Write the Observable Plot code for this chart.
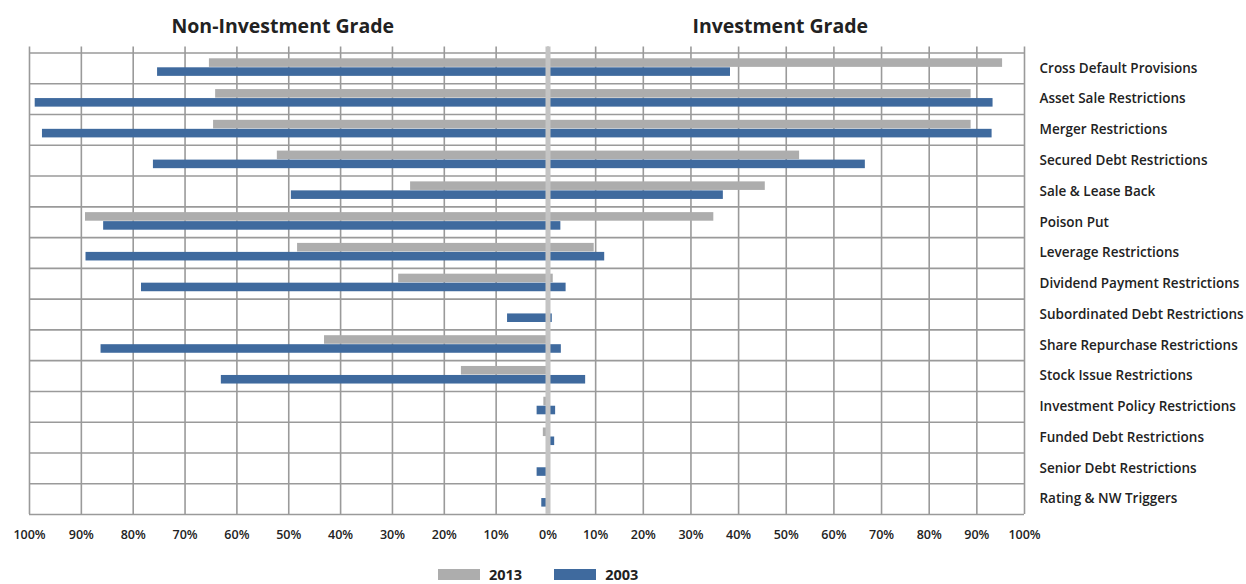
<!DOCTYPE html>
<html>
<head>
<meta charset="utf-8">
<script src="https://cdn.jsdelivr.net/npm/d3@7"></script>
<script src="https://cdn.jsdelivr.net/npm/@observablehq/plot@0.6"></script>
<style>
  html, body { margin: 0; padding: 0; background: #fff; }
  body { width: 1246px; height: 584px; position: relative; overflow: hidden; font-family: "Open Sans", Lato, sans-serif; color: #222; }
  #chart { position: absolute; left: 0; top: 0; }
  .legend { position: absolute; top: 566px; left: 438px; display: flex; align-items: center; font-weight: 700; font-size: 14.5px; line-height: 17px; color: #222; }
  .sw { display: inline-block; width: 42px; height: 11px; margin-right: 9px; }
  .item { display: flex; align-items: center; margin-right: 32px; }
</style>
</head>
<body>
<div id="chart"></div>
<div class="legend">
  <span class="item"><span class="sw" style="background:#adadad"></span>2013</span>
  <span class="item"><span class="sw" style="background:#3f6a9e"></span>2003</span>
</div>
<script>
const categories = [
  "Cross Default Provisions",
  "Asset Sale Restrictions",
  "Merger Restrictions",
  "Secured Debt Restrictions",
  "Sale & Lease Back",
  "Poison Put",
  "Leverage Restrictions",
  "Dividend Payment Restrictions",
  "Subordinated Debt Restrictions",
  "Share Repurchase Restrictions",
  "Stock Issue Restrictions",
  "Investment Policy Restrictions",
  "Funded Debt Restrictions",
  "Senior Debt Restrictions",
  "Rating & NW Triggers"
];
// Non-Investment Grade (left side), percent
const nonInv2013 = [65.3, 64.1, 64.5, 52.2, 26.5, 89.2, 48.3, 28.8, 0, 43.1, 16.7, 0.8, 0.9, 0, 0];
const nonInv2003 = [75.3, 98.9, 97.5, 76.1, 49.5, 85.7, 89.1, 78.4, 7.8, 86.2, 63.0, 2.1, 0, 2.1, 1.2];
// Investment Grade (right side), percent
const inv2013 = [95.4, 88.8, 88.8, 52.8, 45.6, 34.8, 9.7, 1.1, 0, 0, 0, 0, 0, 0, 0];
const inv2003 = [38.3, 93.4, 93.2, 66.6, 36.8, 2.7, 11.9, 3.8, 0.9, 2.8, 7.9, 1.6, 1.4, 0, 0];
const xTicks = [-100, -90, -80, -70, -60, -50, -40, -30, -20, -10, 0, 10, 20, 30, 40, 50, 60, 70, 80, 90, 100];
const sideTitles = ["Non-Investment Grade", "Investment Grade"];
const sideTitleX = [-50, 50];

const rows2013 = categories.flatMap((c, i) => [
  {cat: c, x: -nonInv2013[i]},
  {cat: c, x: inv2013[i]}
]);
const rows2003 = categories.flatMap((c, i) => [
  {cat: c, x: -nonInv2003[i]},
  {cat: c, x: inv2003[i]}
]);

const W = 1246, H = 550;
const plotTop = 52.5, plotBottom = 514;
const bw = (plotBottom - plotTop) / categories.length;
const gridColor = "#9a9a9a";

const chart = Plot.plot({
  width: W,
  height: H,
  marginLeft: 29,
  marginRight: 222,
  marginTop: 46.5,
  marginBottom: H - plotBottom,
  style: {fontFamily: "'Open Sans', Lato, sans-serif", color: "#222", background: "#fff"},
  x: {type: "linear", domain: [-100, 0, 100], range: [29, 547.5, 1024]},
  y: {type: "band", domain: categories, range: [plotTop, plotBottom], padding: 0, round: false},
  marks: [
    Plot.gridX(xTicks, {stroke: gridColor, strokeOpacity: 1, strokeWidth: 1.6}),
    Plot.ruleY(categories, {dy: -bw / 2, stroke: gridColor, strokeWidth: 1.6}),
    Plot.ruleY([categories[categories.length - 1]], {dy: bw / 2, stroke: gridColor, strokeWidth: 1.6}),
    Plot.barX(rows2013, {y: "cat", x: "x", fill: "#adadad", insetTop: 5.8, insetBottom: 16.4}),
    Plot.barX(rows2003, {y: "cat", x: "x", fill: "#3f6a9e", insetTop: 14.8, insetBottom: 7.4}),
    Plot.ruleX([0], {stroke: "#c4c4c4", strokeWidth: 5}),
    Plot.axisX({anchor: "bottom", ticks: xTicks, tickSize: 0, tickPadding: 16, tickFormat: d => Math.abs(d) + "%", fontSize: 12.5, fontWeight: 600, label: null}),
    Plot.axisY({anchor: "right", tickSize: 0, tickPadding: 15, fontSize: 13.5, fontWeight: 600, label: null}),
    Plot.text(sideTitles, {x: (d, i) => sideTitleX[i], text: d => d, frameAnchor: "top", dy: -28, dx: -6, fontSize: 19.5, fontWeight: 700, fill: "#222"})
  ]
});
document.getElementById("chart").appendChild(chart);
</script>
</body>
</html>
